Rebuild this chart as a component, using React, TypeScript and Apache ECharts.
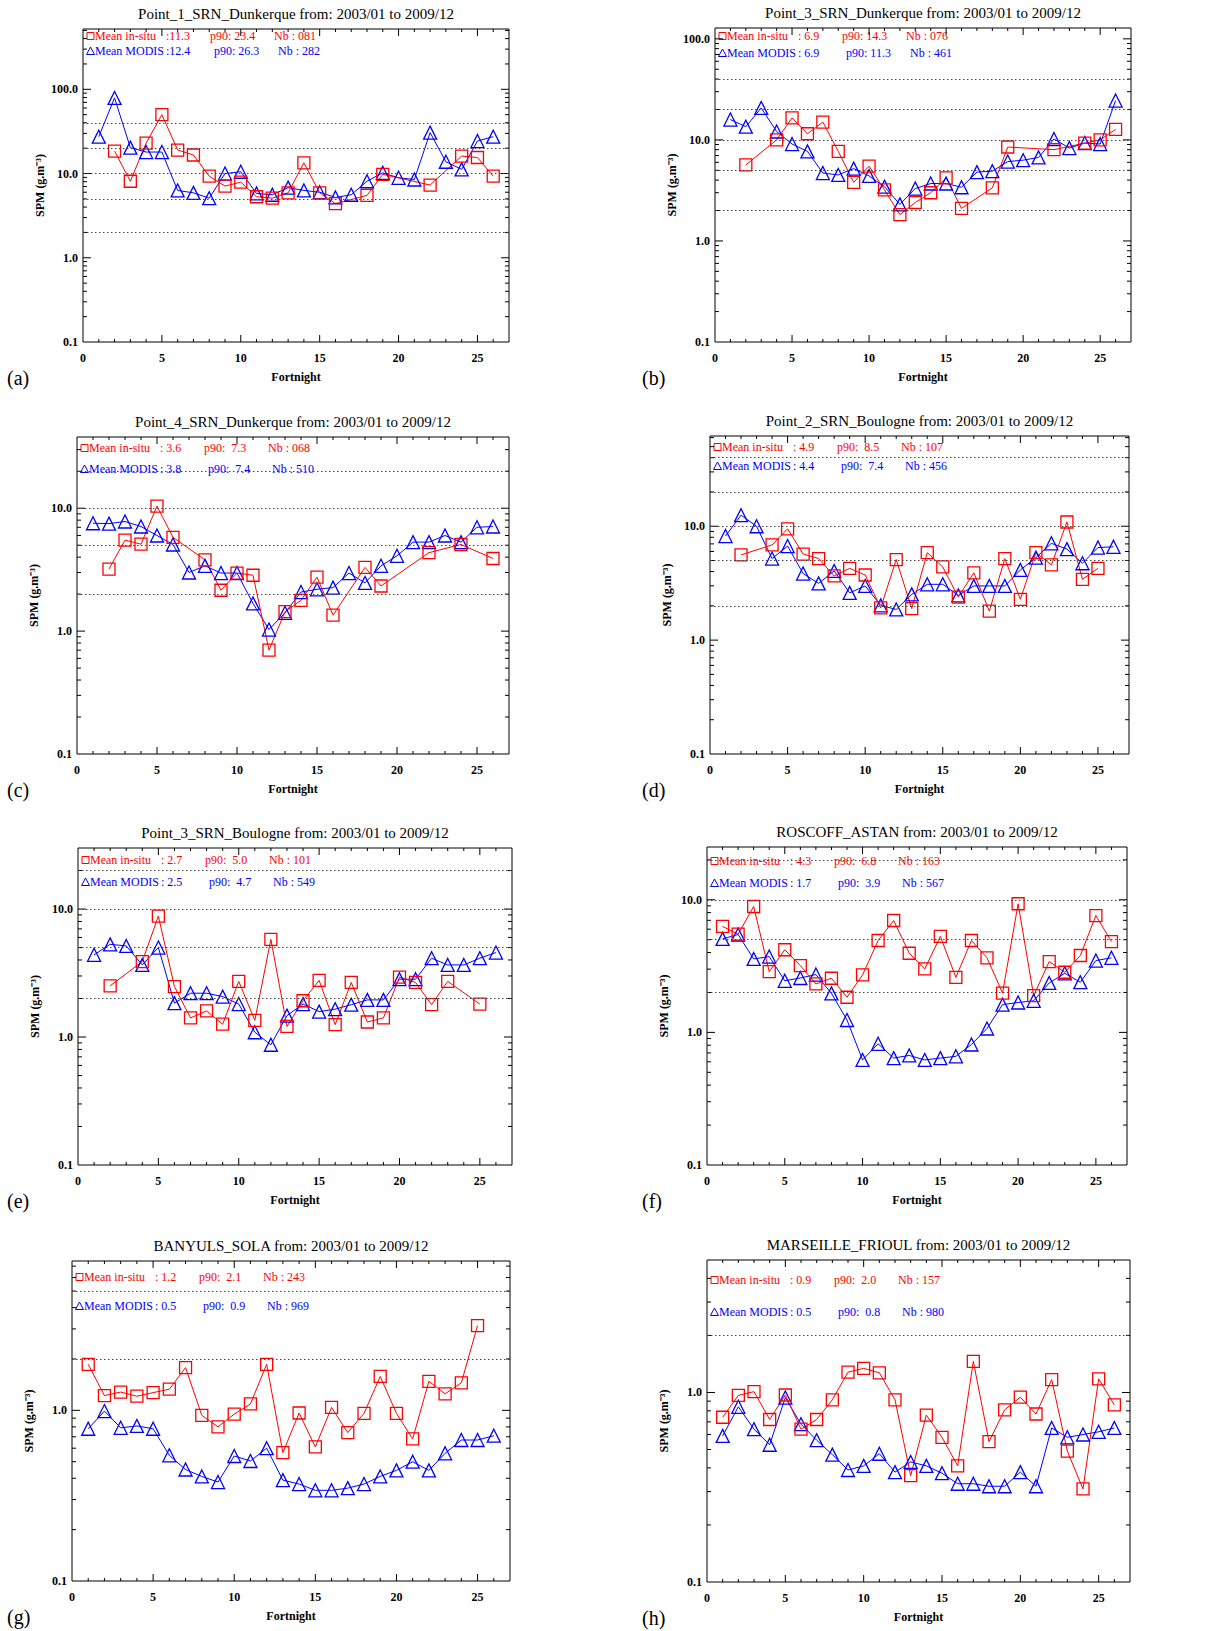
import { useEffect, useRef } from 'react'
import * as echarts from 'echarts'

// fortnight index (x)
const fortnights = [1, 2, 3, 4, 5, 6, 7, 8, 9, 10, 11, 12, 13, 14, 15, 16, 17, 18, 19, 20, 21, 22, 23, 24, 25, 26]

const stations = [
  'Point_1_SRN_Dunkerque',
  'Point_3_SRN_Dunkerque',
  'Point_4_SRN_Dunkerque',
  'Point_2_SRN_Boulogne',
  'Point_3_SRN_Boulogne',
  'ROSCOFF_ASTAN',
  'BANYULS_SOLA',
  'MARSEILLE_FRIOUL'
]
const period = 'from: 2003/01 to 2009/12'
const panelTags = ['(a)', '(b)', '(c)', '(d)', '(e)', '(f)', '(g)', '(h)']

// SPM (g.m-3), null = no in-situ value for that fortnight
const insituA = [null, 18.5, 8.1, 23, 50, 19, 16.6, 9.3, 7.1, 7.9, 5.3, 5.1, 5.9, 13.4, 5.9, 4.4, null, 5.5, 9.8, null, null, 7.3, null, 16.1, 15.5, 9.3]
const modisA = [27.4, 79, 20.3, 18, 18, 6.3, 5.9, 5.1, 10, 10.5, 5.8, 5.6, 6.8, 6.3, 6.0, 5.2, 5.6, 8.1, 10.2, 8.9, 8.5, 30.6, 13.8, 11.2, 24.3, 27.4]

const insituB = [null, 5.65, null, 10, 16.5, 11.5, 15, 7.7, 3.8, 5.5, 3.2, 1.82, 2.4, 3.0, 4.2, 2.1, null, 3.35, 8.5, null, null, 8.0, null, 9.3, 10, 12.7]
const modisB = [15.9, 13.5, 20.7, 12.1, 9.1, 7.7, 4.7, 4.5, 5.2, 4.4, 3.45, 2.3, 3.3, 3.7, 3.7, 3.4, 4.8, 4.9, 6.1, 6.3, 6.7, 10.2, 8.3, 9.3, 9.1, 24.5]

const insituC = [null, 3.2, 5.5, 5.1, 10.4, 5.8, null, 3.8, 2.15, 2.97, 2.85, 0.7, 1.44, 1.78, 2.75, 1.35, null, 3.3, 2.33, null, null, 4.35, null, 5.07, null, 3.9]
const modisC = [7.55, 7.5, 7.8, 7.1, 6.0, 5.07, 3.0, 3.4, 2.97, 2.97, 1.68, 1.03, 1.41, 2.08, 2.19, 2.26, 2.97, 2.47, 3.4, 4.1, 5.3, 5.3, 6.0, 5.3, 7.0, 7.1]

const insituD = [null, 5.6, null, 6.85, 9.5, 5.7, 5.2, 3.66, 4.27, 3.73, 1.92, 5.1, 1.89, 5.86, 4.39, 2.39, 3.9, 1.8, 5.2, 2.28, 5.86, 4.57, 10.9, 3.42, 4.27, null]
const modisD = [8.2, 12.5, 10, 5.2, 6.7, 3.84, 3.15, 4.05, 2.6, 2.99, 2.02, 1.86, 2.52, 3.09, 3.09, 2.47, 2.99, 2.99, 2.99, 4.13, 5.3, 7.08, 6.3, 4.73, 6.5, 6.6]

const insituE = [null, 2.51, null, 3.89, 8.8, 2.48, 1.41, 1.6, 1.26, 2.72, 1.35, 5.8, 1.21, 1.92, 2.77, 1.25, 2.67, 1.31, 1.41, 2.94, 2.67, 1.79, 2.72, null, 1.81, null]
const modisE = [4.39, 5.3, 5.15, 3.66, 5.0, 1.84, 2.2, 2.2, 2.07, 1.81, 1.09, 0.87, 1.47, 1.81, 1.58, 1.65, 1.79, 1.95, 1.95, 2.83, 2.83, 4.13, 3.66, 3.66, 4.13, 4.57]

const insituF = [6.3, 5.5, 8.9, 2.87, 4.2, 3.19, 2.32, 2.56, 1.84, 2.71, 4.93, 6.98, 3.95, 3.01, 5.3, 2.6, 4.93, 3.65, 1.98, 9.33, 1.89, 3.42, 2.84, 3.8, 7.6, 4.84]
const modisF = [5.07, 5.47, 3.58, 3.73, 2.45, 2.57, 2.73, 1.97, 1.24, 0.62, 0.82, 0.64, 0.67, 0.62, 0.64, 0.66, 0.81, 1.07, 1.62, 1.68, 1.73, 2.36, 2.79, 2.39, 3.48, 3.65]

const insituG = [1.86, 1.22, 1.28, 1.21, 1.27, 1.33, 1.78, 0.935, 0.8, 0.95, 1.09, 1.86, 0.565, 0.965, 0.61, 1.04, 0.74, 0.96, 1.58, 0.96, 0.68, 1.48, 1.25, 1.45, 3.14, null]
const modisG = [0.78, 0.99, 0.79, 0.81, 0.78, 0.545, 0.45, 0.41, 0.38, 0.54, 0.505, 0.6, 0.39, 0.37, 0.34, 0.34, 0.35, 0.37, 0.41, 0.445, 0.5, 0.445, 0.56, 0.67, 0.67, 0.71]

const insituH = [0.74, 0.965, 1.01, 0.72, 0.97, 0.64, 0.72, 0.915, 1.28, 1.34, 1.27, 0.915, 0.364, 0.76, 0.58, 0.41, 1.46, 0.55, 0.81, 0.945, 0.77, 1.17, 0.49, 0.31, 1.18, 0.86]
const modisH = [0.59, 0.84, 0.64, 0.53, 0.94, 0.68, 0.56, 0.47, 0.39, 0.41, 0.475, 0.38, 0.43, 0.41, 0.375, 0.33, 0.33, 0.32, 0.32, 0.38, 0.32, 0.65, 0.58, 0.6, 0.62, 0.65]

// statistics printed in each plot
const meanInsitu = [':11.3', ': 6.9', ': 3.6', ': 4.9', ': 2.7', ': 4.3', ': 1.2', ': 0.9']
const meanModis = [':12.4', ': 6.9', ': 3.8', ': 4.4', ': 2.5', ': 1.7', ': 0.5', ': 0.5']
const p90Insitu = ['23.4', '14.3', ' 7.3', ' 8.5', ' 5.0', ' 6.8', ' 2.1', ' 2.0']
const p90Modis = ['26.3', '11.3', ' 7.4', ' 7.4', ' 4.7', ' 3.9', ' 0.9', ' 0.8']
const nbInsitu = ['081', '076', '068', '107', '101', '163', '243', '157']
const nbModis = ['282', '461', '510', '456', '549', '567', '969', '980']

// axes
const yMin = 0.1
const yMax = [520, 128, 38, 62, 30, 25, 7.5, 5]
const xMax = 27
const refLevels = [2, 5, 10, 20, 40]
const decades = [0.1, 1, 10, 100]
const minorSteps = [2, 3, 4, 5, 6, 7, 8, 9]

const insituSets = [insituA, insituB, insituC, insituD, insituE, insituF, insituG, insituH]
const modisSets = [modisA, modisB, modisC, modisD, modisE, modisF, modisG, modisH]

// layout: [left, top, width, height] of each plot box, px
const boxes = [
  [83, 29, 426, 313],
  [715, 28, 416, 314],
  [77, 437, 432, 317],
  [710, 436, 419, 318],
  [78, 848, 434, 317],
  [707, 847, 420, 318],
  [72, 1261, 438, 320],
  [707, 1260, 423, 322]
]
// vertical offset of the two statistic rows inside the box
const statRows = [
  [7, 22], [8, 25], [11, 32], [11, 30], [12, 34], [14, 36], [16, 45], [20, 52]
]

const FONT = '"Liberation Serif", "Times New Roman", serif'
const RED = '#ff0000'
const BLUE = '#0000ff'

function txt(x: number, y: number, text: string, font: string, fill: string, align = 'left') {
  return {
    type: 'text',
    x,
    y,
    silent: true,
    style: { text, font, fill, textAlign: align, textVerticalAlign: 'middle' }
  }
}

function buildOption(): echarts.EChartsOption {
  const grid: any[] = []
  const xAxis: any[] = []
  const yAxis: any[] = []
  const series: any[] = []
  const graphic: any[] = []

  boxes.forEach(([left, top, width, height], i) => {
    const ymax = yMax[i]
    grid.push({ left, top, width, height, show: true, borderColor: '#000', borderWidth: 1, backgroundColor: 'transparent' })

    xAxis.push({
      type: 'value',
      gridIndex: i,
      min: 0,
      max: xMax,
      interval: 5,
      axisLine: { show: false },
      axisTick: { show: false },
      splitLine: { show: false },
      axisLabel: { showMaxLabel: false, margin: 10, color: '#000', fontFamily: FONT, fontWeight: 'bold', fontSize: 12 },
      name: 'Fortnight',
      nameLocation: 'middle',
      nameGap: 29,
      nameTextStyle: { color: '#000', fontFamily: FONT, fontWeight: 'bold', fontSize: 12 }
    })

    yAxis.push({
      type: 'log',
      logBase: 10,
      gridIndex: i,
      min: yMin,
      max: ymax,
      axisLine: { show: false },
      axisTick: { show: false },
      splitLine: { show: false },
      axisLabel: {
        showMaxLabel: false,
        margin: 5,
        color: '#000',
        fontFamily: FONT,
        fontWeight: 'bold',
        fontSize: 12,
        formatter: (v: number) => {
          const l = Math.log10(v)
          return Math.abs(l - Math.round(l)) < 1e-6 ? v.toFixed(1) : ''
        }
      },
      name: 'SPM (g.m⁻³)',
      nameLocation: 'middle',
      nameGap: 37,
      nameTextStyle: { color: '#000', fontFamily: FONT, fontWeight: 'bold', fontSize: 12 }
    })

    // tick marks (inside, on all four sides)
    const ticks: number[][] = []
    decades.forEach(d => {
      if (d > yMin && d < ymax) ticks.push([0, d, 8])
      minorSteps.forEach(m => {
        const v = d * m
        if (v < ymax) ticks.push([0, v, 4])
      })
    })
    fortnights.forEach(f => ticks.push([1, f, f % 5 === 0 ? 7 : 3]))

    series.push({
      type: 'custom',
      xAxisIndex: i,
      yAxisIndex: i,
      silent: true,
      dimensions: ['kind', 'v', 'len'],
      encode: { x: 0, y: 1 },
      data: ticks,
      renderItem: (_p: any, api: any) => {
        const kind = api.value(0)
        const v = api.value(1)
        const len = api.value(2)
        const st = { stroke: '#000', lineWidth: 1 }
        if (kind === 0) {
          const a = api.coord([0, v])
          const b = api.coord([xMax, v])
          return {
            type: 'group',
            children: [
              { type: 'line', shape: { x1: a[0], y1: a[1], x2: a[0] + len, y2: a[1] }, style: st },
              { type: 'line', shape: { x1: b[0] - len, y1: b[1], x2: b[0], y2: b[1] }, style: st }
            ]
          }
        }
        const a = api.coord([v, yMin])
        const b = api.coord([v, ymax])
        return {
          type: 'group',
          children: [
            { type: 'line', shape: { x1: a[0], y1: a[1], x2: a[0], y2: a[1] - len }, style: st },
            { type: 'line', shape: { x1: b[0], y1: b[1], x2: b[0], y2: b[1] + len }, style: st }
          ]
        }
      }
    })

    const pairs = (arr: (number | null)[]) =>
      arr.map((v, k) => [fortnights[k], v]).filter(d => d[1] != null)

    series.push({
      name: 'MODIS',
      type: 'line',
      xAxisIndex: i,
      yAxisIndex: i,
      data: pairs(modisSets[i]),
      symbol: 'triangle',
      symbolSize: 13,
      lineStyle: { color: BLUE, width: 1 },
      itemStyle: { color: 'rgba(0,0,0,0)', borderColor: BLUE, borderWidth: 1.3 },
      emphasis: { disabled: true },
      markLine: {
        silent: true,
        symbol: 'none',
        label: { show: false },
        lineStyle: { type: [1.5, 2.5], color: '#444', width: 1 },
        data: refLevels.filter(v => v < ymax).map(v => ({ yAxis: v }))
      }
    })

    series.push({
      name: 'in-situ',
      type: 'line',
      xAxisIndex: i,
      yAxisIndex: i,
      data: pairs(insituSets[i]),
      symbol: 'rect',
      symbolSize: 12,
      lineStyle: { color: RED, width: 1 },
      itemStyle: { color: 'rgba(0,0,0,0)', borderColor: RED, borderWidth: 1.3 },
      emphasis: { disabled: true }
    })

    // title, panel tag
    graphic.push(txt(left + width / 2, top - 15, `${stations[i]} ${period}`, `15px ${FONT}`, '#000', 'center'))
    graphic.push(txt(left - (i % 2 === 0 ? left - 7 : left - 642), top + height + 36, panelTags[i], `20px ${FONT}`, '#000'))

    // statistics rows
    const [ry, by] = statRows[i].map(d => top + d)
    const f12 = `12px ${FONT}`
    graphic.push({
      type: 'rect',
      silent: true,
      shape: { x: left + 4, y: ry - 3.5, width: 7, height: 7 },
      style: { fill: 'none', stroke: RED, lineWidth: 1 }
    })
    graphic.push({
      type: 'polygon',
      silent: true,
      shape: { points: [[left + 3.5, by + 3.5], [left + 11.5, by + 3.5], [left + 7.5, by - 4]] },
      style: { fill: 'none', stroke: BLUE, lineWidth: 1 }
    })
    graphic.push(txt(left + 12, ry, 'Mean in-situ', f12, RED))
    graphic.push(txt(left + 83, ry, meanInsitu[i], f12, RED))
    graphic.push(txt(left + 127, ry, `p90: ${p90Insitu[i]}`, f12, RED))
    graphic.push(txt(left + 191, ry, `Nb : ${nbInsitu[i]}`, f12, RED))
    graphic.push(txt(left + 12, by, 'Mean MODIS', f12, BLUE))
    graphic.push(txt(left + 83, by, meanModis[i], f12, BLUE))
    graphic.push(txt(left + 131, by, `p90: ${p90Modis[i]}`, f12, BLUE))
    graphic.push(txt(left + 195, by, `Nb : ${nbModis[i]}`, f12, BLUE))
  })

  return {
    animation: false,
    backgroundColor: '#ffffff',
    textStyle: { fontFamily: FONT },
    grid,
    xAxis,
    yAxis,
    series,
    graphic
  }
}

export default function App() {
  const chartRef = useRef<HTMLDivElement>(null)

  useEffect(() => {
    if (!chartRef.current) return
    const chart = echarts.init(chartRef.current, undefined, { renderer: 'svg' })
    chart.setOption(buildOption())
    return () => {
      chart.dispose()
    }
  }, [])

  return (
    <div
      ref={chartRef}
      style={{ position: 'absolute', left: 0, top: 0, width: '1229px', height: '1631px', background: '#fff' }}
    />
  )
}
